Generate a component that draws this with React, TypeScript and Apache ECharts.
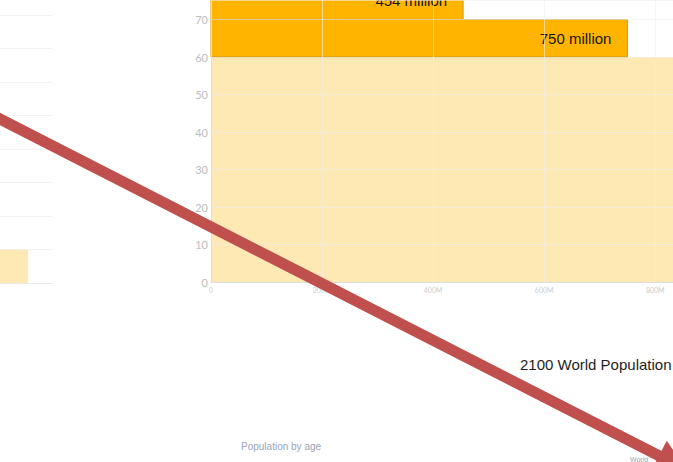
import React, { useEffect, useRef } from "react";
import * as echarts from "echarts";

// Main panel: age bands (years) and population (millions)
const ageBandStart = [0, 60, 70];
const ageBandEnd = [60, 70, 80];
const populationMillions = [960, 750, 454];
const bandLabels = ["", "750 million", "454 million"];

// Left (partially visible) panel
const leftBandStart = [0];
const leftBandEnd = [1];
const leftValues = [54];

const xTickValues = [0, 200, 400, 600, 800];
const yTickValues = [0, 10, 20, 30, 40, 50, 60, 70];

const titleText = "2100 World Population";
const subText = "Population by age";
const sourceText = "World";

const PALE = "#fee8b3";
const ORANGE = "#ffb500";

export default function App() {
  const ref = useRef<HTMLDivElement>(null);
  useEffect(() => {
    if (!ref.current) return;
    const chart = echarts.init(ref.current, undefined, { renderer: "svg" });

    const mainData = ageBandStart.map((s, i) => [s, ageBandEnd[i], populationMillions[i]]);
    const leftData = leftBandStart.map((s, i) => [s, leftBandEnd[i], leftValues[i]]);

    // arrow geometry (annotation)
    const ox = 0, oy = 119;
    const dx = 0.8905, dy = 0.4551;
    const nx = -dy, ny = dx;
    const P = (a: number, p = 0) => [ox + a * dx + p * nx, oy + a * dy + p * ny];
    const s0 = P(-20), s1 = P(742);
    const w1 = P(740, -17), w2 = P(740, 17), tip = P(772);

    chart.setOption({
      animation: false,
      textStyle: { fontFamily: "Lato, 'Liberation Sans', sans-serif" },
      grid: [
        { left: 211, top: 0, right: 0, height: 282, containLabel: false },
        { left: 0, top: 15, width: 52, height: 268, containLabel: false },
      ],
      xAxis: [
        {
          type: "value",
          gridIndex: 0,
          min: 0,
          max: 832,
          interval: 200,
          z: 5,
          axisLine: { show: true, lineStyle: { color: "#dedede", width: 1 } },
          axisTick: { show: false },
          axisLabel: {
            show: true,
            color: "#cdcdcd",
            fontSize: 7,
            margin: 4,
            customValues: xTickValues,
            formatter: (v: number) => (v === 0 ? "0" : v + "M"),
          },
          splitLine: { show: true, lineStyle: { color: "rgba(238,238,238,0.6)", width: 1 } },
        },
        {
          type: "value",
          gridIndex: 1,
          min: 0,
          max: 100,
          axisLine: { show: true, lineStyle: { color: "#dedede", width: 1 } },
          axisTick: { show: false },
          axisLabel: { show: false },
          splitLine: { show: false },
        },
      ],
      yAxis: [
        {
          type: "value",
          gridIndex: 0,
          min: 0,
          max: 75.2,
          interval: 10,
          z: 5,
          axisLine: { show: true, lineStyle: { color: "#dedede", width: 1 } },
          axisTick: { show: false },
          axisLabel: {
            show: true,
            color: "#bdbdbd",
            fontSize: 11,
            margin: 3,
            customValues: yTickValues,
          },
          splitLine: { show: true, lineStyle: { color: "rgba(238,238,238,0.6)", width: 1 } },
        },
        {
          type: "value",
          gridIndex: 1,
          min: 0,
          max: 8,
          interval: 1,
          z: 5,
          axisLine: { show: false },
          axisTick: { show: false },
          axisLabel: { show: false },
          splitLine: { show: true, lineStyle: { color: "rgba(236,236,236,0.7)", width: 1 } },
        },
      ],
      series: [
        {
          type: "custom",
          xAxisIndex: 0,
          yAxisIndex: 0,
          z: 1,
          clip: false,
          encode: { x: 2, y: [0, 1] },
          data: mainData,
          renderItem: (params: any, api: any) => {
            const a0 = api.value(0), a1 = api.value(1), v = api.value(2);
            const p0 = api.coord([0, a1]);
            const p1 = api.coord([v, a0]);
            const idx = params.dataIndex;
            const children: any[] = [
              {
                type: "rect",
                shape: { x: p0[0], y: p0[1], width: p1[0] - p0[0], height: p1[1] - p0[1] },
                style: idx === 0
                  ? { fill: PALE }
                  : { fill: ORANGE, stroke: "#c99a1a", lineWidth: 1 },
              },
            ];
            const label = bandLabels[idx];
            if (label) {
              children.push({
                type: "text",
                x: p1[0] - 16,
                y: (p0[1] + p1[1]) / 2,
                style: {
                  text: label,
                  fill: "#151515",
                  font: "15px 'Liberation Sans', Arial, sans-serif",
                  align: "right",
                  verticalAlign: "middle",
                  textAlign: "right",
                  textVerticalAlign: "middle",
                },
              });
            }
            return { type: "group", children };
          },
        },
        {
          type: "custom",
          xAxisIndex: 1,
          yAxisIndex: 1,
          z: 1,
          encode: { x: 2, y: [0, 1] },
          data: leftData,
          renderItem: (params: any, api: any) => {
            const a0 = api.value(0), a1 = api.value(1), v = api.value(2);
            const p0 = api.coord([0, a1]);
            const p1 = api.coord([v, a0]);
            return {
              type: "rect",
              shape: { x: p0[0], y: p0[1], width: p1[0] - p0[0], height: p1[1] - p0[1] },
              style: { fill: PALE },
            };
          },
        },
      ],
      graphic: [
        {
          type: "text",
          left: 520,
          top: 357,
          style: {
            text: titleText,
            fill: "#1e1e1e",
            font: "15px 'Liberation Sans', Arial, sans-serif",
          },
        },
        {
          type: "text",
          left: 241,
          top: 441,
          style: {
            text: subText,
            fill: "#9aa3b8",
            font: "10px 'Liberation Sans', Arial, sans-serif",
          },
        },
        {
          type: "text",
          left: 630,
          top: 456,
          style: {
            text: sourceText,
            fill: "#9aa3b8",
            font: "7px 'Liberation Sans', Arial, sans-serif",
          },
        },
        {
          type: "line",
          z: 100,
          shape: { x1: s0[0], y1: s0[1], x2: s1[0], y2: s1[1] },
          style: { stroke: "#c0504d", lineWidth: 11 },
        },
        {
          type: "polygon",
          z: 100,
          shape: { points: [w1, tip, w2] },
          style: { fill: "#c0504d" },
        },
      ],
    });
    return () => chart.dispose();
  }, []);
  return (
    <div
      ref={ref}
      style={{ position: "fixed", left: 0, top: 0, width: 673, height: 462, background: "#fff" }}
    />
  );
}
